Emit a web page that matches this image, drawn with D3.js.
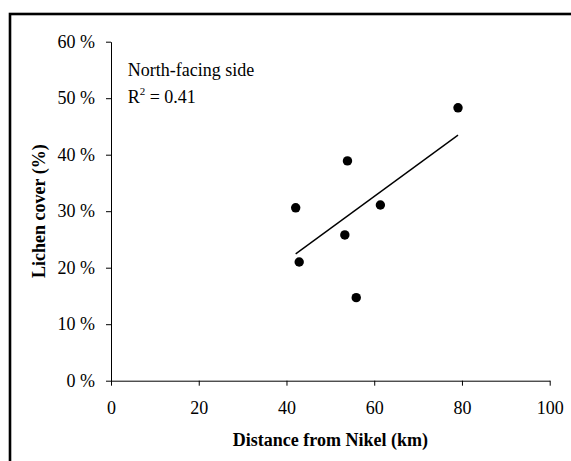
<!DOCTYPE html>
<html>
<head>
<meta charset="utf-8">
<script src="https://cdn.jsdelivr.net/npm/d3@7"></script>
<style>
  html, body { margin: 0; padding: 0; background: #fff; }
  svg { display: block; }
  text { font-family: "Liberation Serif", "Times New Roman", serif; }
</style>
</head>
<body>
<svg id="chart" width="571" height="461"></svg>
<script>
// ---- Data ----
const distanceKm  = [42.1, 42.9, 53.3, 53.9, 55.9, 61.4, 79.1];
const lichenCover = [30.6, 21.0, 25.8, 38.9, 14.7, 31.1, 48.3];
const xTicks = [0, 20, 40, 60, 80, 100];
const yTicks = [0, 10, 20, 30, 40, 50, 60];
const xTitle = "Distance from Nikel (km)";
const yTitle = "Lichen cover (%)";
const noteLine1 = "North-facing side";
const rSquared = "0.41";

// ---- Layout ----
const W = 571, H = 461;
const plot = { left: 111, right: 549.7, top: 41.7, bottom: 380.7 };

const svg = d3.select("#chart");

// outer frame (only left/top edges visible in the reference window)
svg.append("rect")
  .attr("x", 10).attr("y", 14)
  .attr("width", W + 20).attr("height", H + 20)
  .attr("fill", "none").attr("stroke", "#000").attr("stroke-width", 2.6);

const x = d3.scaleLinear().domain([0, 100]).range([plot.left, plot.right]);
const y = d3.scaleLinear().domain([0, 60]).range([plot.bottom, plot.top]);

// axes
const xAxis = d3.axisBottom(x).tickValues(xTicks).tickSize(5).tickSizeOuter(0).tickPadding(15.5);
const yAxis = d3.axisLeft(y).tickValues(yTicks).tickSize(5).tickSizeOuter(0).tickPadding(11)
  .tickFormat(d => d + " %");

const gx = svg.append("g").attr("transform", `translate(0,${plot.bottom})`).call(xAxis);
const gy = svg.append("g").attr("transform", `translate(${plot.left},0)`).call(yAxis);
[gx, gy].forEach(g => {
  g.selectAll("text").attr("font-family", "'Liberation Serif', 'Times New Roman', serif")
    .attr("font-size", 18).attr("fill", "#000");
  g.selectAll("line, path").attr("stroke", "#000").attr("stroke-width", 1);
});

// axis titles
svg.append("text")
  .attr("x", (plot.left + plot.right) / 2).attr("y", 446)
  .attr("text-anchor", "middle").attr("font-weight", "bold").attr("font-size", 18)
  .text(xTitle);

svg.append("text")
  .attr("transform", `translate(45,${(plot.top + plot.bottom) / 2}) rotate(-90)`)
  .attr("text-anchor", "middle").attr("font-weight", "bold").attr("font-size", 18)
  .text(yTitle);

// linear regression trend line from the data
const n = distanceKm.length;
const mx = d3.mean(distanceKm), my = d3.mean(lichenCover);
let sxy = 0, sxx = 0;
for (let i = 0; i < n; i++) {
  sxy += (distanceKm[i] - mx) * (lichenCover[i] - my);
  sxx += (distanceKm[i] - mx) ** 2;
}
const slope = sxy / sxx, intercept = my - slope * mx;
const [xmin, xmax] = d3.extent(distanceKm);
svg.append("line")
  .attr("x1", x(xmin)).attr("y1", y(intercept + slope * xmin))
  .attr("x2", x(xmax)).attr("y2", y(intercept + slope * xmax))
  .attr("stroke", "#000").attr("stroke-width", 1.4);

// points
svg.append("g").selectAll("circle")
  .data(distanceKm.map((d, i) => [d, lichenCover[i]]))
  .join("circle")
  .attr("cx", d => x(d[0])).attr("cy", d => y(d[1]))
  .attr("r", 4.7).attr("fill", "#000");

// annotation
svg.append("text").attr("x", 127.7).attr("y", 76).attr("font-size", 18).text(noteLine1);
const r2 = svg.append("text").attr("x", 127.7).attr("y", 103).attr("font-size", 18);
r2.append("tspan").text("R");
r2.append("tspan").attr("dy", -8).attr("font-size", 11).text("2");
r2.append("tspan").attr("dy", 8).text(" = " + rSquared);
</script>
</body>
</html>
